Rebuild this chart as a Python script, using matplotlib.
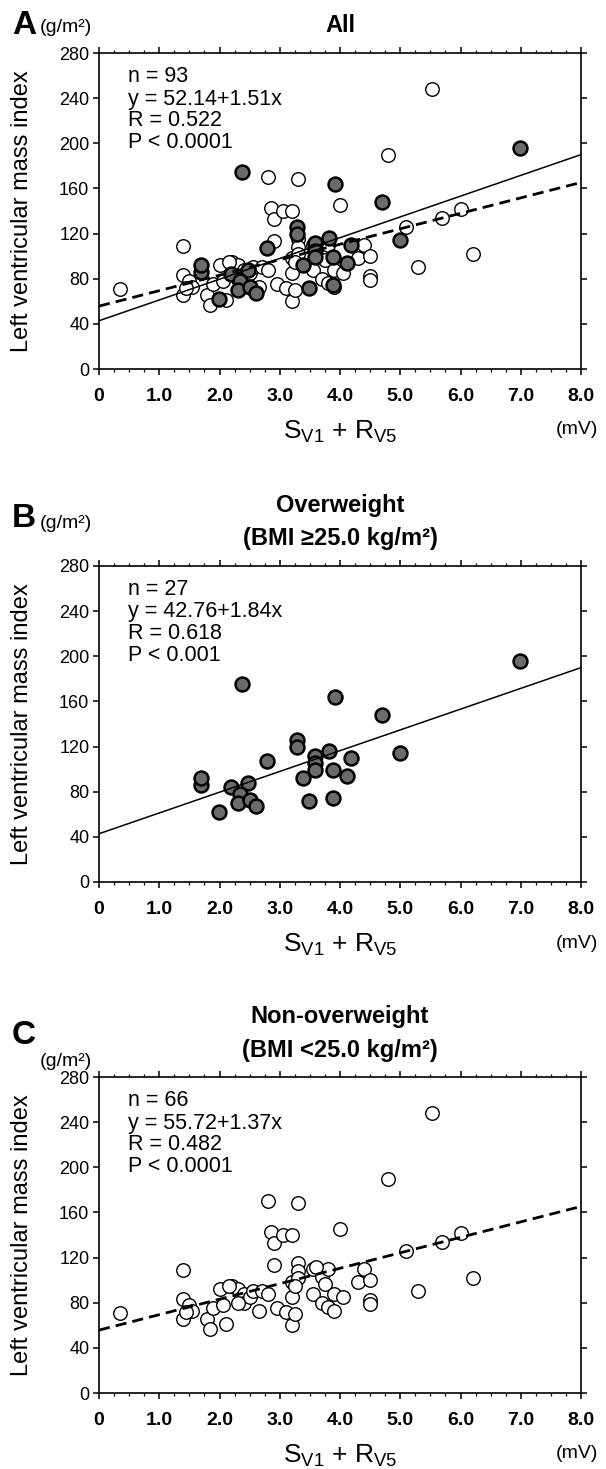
import matplotlib
matplotlib.use("Agg")
import matplotlib.pyplot as plt
import numpy as np
from matplotlib.ticker import MultipleLocator, FixedLocator

plt.rcParams['font.family'] = ['Liberation Sans', 'DejaVu Sans']
plt.rcParams['mathtext.fontset'] = 'custom'
plt.rcParams['mathtext.rm'] = 'Liberation Sans'
plt.rcParams['mathtext.it'] = 'Liberation Sans'

# ---------------- data ----------------
# Overweight (BMI >= 25.0) : filled circles
ow_x = [1.69, 1.69, 1.99, 2.19, 2.48, 2.34, 2.31, 2.50, 2.61, 2.79, 3.29, 3.29, 3.59, 3.59,
        3.59, 3.81, 4.18, 3.88, 4.12, 3.38, 3.49, 3.88, 5.00, 2.38, 3.91, 4.69, 6.99]
ow_y = [86, 92, 62, 84, 88, 78, 70, 73, 67, 107, 126, 120, 112, 105,
        99, 116, 110, 99, 94, 92, 72, 74, 114, 175, 164, 148, 196]

# Non-overweight (BMI < 25.0) : open circles
now_x = [0.35, 1.40, 1.40, 1.40, 1.50, 1.55, 1.80, 1.85, 1.90, 2.00, 2.05, 2.10, 2.20, 2.30,
         2.35, 2.40, 2.40, 2.50, 2.55, 2.65, 2.70, 2.80, 2.85, 2.90, 2.90, 2.80, 2.95, 3.05,
         3.10, 3.20, 3.20, 3.20, 3.20, 3.25, 3.30, 3.30, 3.30, 3.30, 3.25, 3.55, 3.55, 3.70,
         3.70, 3.75, 3.80, 3.80, 3.90, 3.90, 4.00, 4.05, 4.30, 4.40, 4.50, 4.50, 4.50, 4.80,
         5.10, 5.30, 5.52, 5.70, 6.00, 6.20, 2.30, 3.60, 1.45, 2.15]
now_y = [71, 109, 83, 66, 78, 73, 66, 57, 75, 92, 78, 61, 95, 92,
         84, 88, 80, 85, 90, 73, 90, 170, 143, 133, 113, 88, 75, 140,
         72, 140, 98, 85, 60, 70, 168, 115, 108, 102, 95, 110, 88, 103,
         80, 97, 110, 76, 73, 88, 145, 85, 98, 110, 100, 82, 79, 190,
         126, 90, 248, 134, 142, 102, 80, 112, 72, 95]

# regression lines (x expressed in 0.1 mV units in the equations)
ow_fit = (42.76, 1.84)
now_fit = (55.72, 1.37)

panels = ["A", "B", "C"]
titles = ["All", "Overweight\n(BMI \u226525.0 kg/m\u00b2)", "Non-overweight\n(BMI <25.0 kg/m\u00b2)"]
stats = [["n = 93", "y = 52.14+1.51x", "R = 0.522", "P < 0.0001"],
         ["n = 27", "y = 42.76+1.84x", "R = 0.618", "P < 0.001"],
         ["n = 66", "y = 55.72+1.37x", "R = 0.482", "P < 0.0001"]]
xticks = [0, 1, 2, 3, 4, 5, 6, 7, 8]
xticklabels = ["0", "1.0", "2.0", "3.0", "4.0", "5.0", "6.0", "7.0", "8.0"]
yticks = [0, 40, 80, 120, 160, 200, 240, 280]

# ---------------- figure ----------------
W, H = 606, 1469
fig = plt.figure(figsize=(W / 100, H / 100), dpi=100)

left_px, right_px = 99, 581
tops_px = [53, 566, 1077]
ax_h_px = 316
ax_w_px = right_px - left_px

fc_fill = '#6b6b6b'
xs_line = np.array([0.0, 8.0])

for i in range(3):
    top = tops_px[i]
    ax = fig.add_axes([left_px / W, 1 - (top + ax_h_px) / H,
                       ax_w_px / W, ax_h_px / H])
    ax.set_xlim(0, 8)
    ax.set_ylim(0, 280)

    if i in (0, 2):
        ax.scatter(now_x, now_y, s=95, facecolor='white', edgecolor='black',
                   linewidth=1.0, zorder=3)
    if i in (0, 1):
        ax.scatter(ow_x, ow_y, s=100, facecolor=fc_fill, edgecolor='black',
                   linewidth=1.8, zorder=4)
    if i in (0, 1):
        ax.plot(xs_line, ow_fit[0] + ow_fit[1] * 10 * xs_line, color='black',
                lw=1.1, zorder=5)
    if i in (0, 2):
        ax.plot(xs_line, now_fit[0] + now_fit[1] * 10 * xs_line, color='black',
                lw=2.0, dashes=(4, 2.2), zorder=5)

    for sp in ax.spines.values():
        sp.set_linewidth(1.2)

    ax.xaxis.set_major_locator(FixedLocator(xticks))
    ax.set_xticklabels(xticklabels, fontsize=14, fontweight='bold')
    ax.xaxis.set_minor_locator(MultipleLocator(0.25))
    ax.yaxis.set_major_locator(FixedLocator(yticks))
    ax.set_yticklabels([str(v) for v in yticks], fontsize=13)
    ax.tick_params(which='both', direction='out', top=True, right=True)
    ax.tick_params(which='major', length=4, width=1.1)
    ax.tick_params(which='minor', length=2.2, width=0.9)
    ax.tick_params(axis='x', which='major', pad=9.5)
    ax.tick_params(axis='y', which='major', pad=3)

    ax.set_ylabel("Left ventricular mass index", fontsize=17)
    ax.yaxis.label.set_va('center')
    ax.yaxis.set_label_coords((22 - left_px) / ax_w_px, 0.5)
    ax.set_xlabel(r"S$_{\mathrm{V1}}$ + R$_{\mathrm{V5}}$", fontsize=19)
    ax.xaxis.label.set_va('center')
    ax.xaxis.set_label_coords(0.5, -63 / ax_h_px)

    # stats text
    for j, line in enumerate(stats[i]):
        ax.text(0.06, 1 - (24 + 22 * j) / ax_h_px, line, transform=ax.transAxes,
                fontsize=15.5, ha='left', va='center')

    # title
    cx = (left_px + right_px) / 2 / W
    if i == 0:
        fig.text(cx, 1 - (top - 27) / H, titles[i], fontsize=17, fontweight='bold',
                 ha='center', va='center')
    else:
        t1, t2 = titles[i].split("\n")
        fig.text(cx, 1 - (top - 60) / H, t1, fontsize=17, fontweight='bold',
                 ha='center', va='center')
        fig.text(cx, 1 - (top - 27) / H, t2, fontsize=17, fontweight='bold',
                 ha='center', va='center')

    # panel letter and unit
    if i == 0:
        fig.text(12 / W, 1 - (top - 27) / H, "A", fontsize=24, fontweight='bold',
                 ha='left', va='center')
        fig.text(40 / W, 1 - (top - 25) / H, "(g/m\u00b2)", fontsize=14,
                 ha='left', va='center')
    elif i == 1:
        fig.text(12 / W, 1 - (top - 47) / H, "B", fontsize=24, fontweight='bold',
                 ha='left', va='center')
        fig.text(40 / W, 1 - (top - 43) / H, "(g/m\u00b2)", fontsize=14,
                 ha='left', va='center')
    else:
        fig.text(12 / W, 1 - (top - 42) / H, "C", fontsize=24, fontweight='bold',
                 ha='left', va='center')
        fig.text(40 / W, 1 - (top - 15) / H, "(g/m\u00b2)", fontsize=14,
                 ha='left', va='center')

    # mV unit
    fig.text(556 / W, 1 - (top + ax_h_px + 61) / H, "(mV)", fontsize=14,
             ha='left', va='center')

fig.savefig("out.png", dpi=100, facecolor='white')
